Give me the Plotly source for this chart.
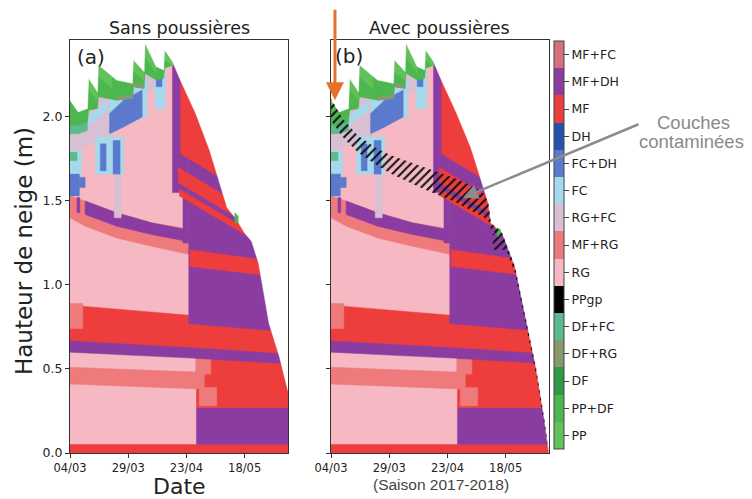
import pandas as pd
import plotly.graph_objects as go

START = pd.Timestamp("2018-03-04")
END_DAY = 93.6

GRAIN_TYPES = ["PP", "PP+DF", "DF", "DF+RG", "DF+FC", "PPgp", "RG", "MF+RG",
               "RG+FC", "FC", "FC+DH", "DH", "MF", "MF+DH", "MF+FC"]
GRAIN_COLORS = ["#62c25a", "#4cb64f", "#2f9a45", "#879a6c", "#5cba8e", "#000000",
                "#f6b8c2", "#ef7a7c", "#d9bfd2", "#a7d9ec", "#5b79cd", "#2652ae",
                "#ee3d3d", "#8b3ca1", "#d6707c"]

TICK_DAYS = [0, 25, 50, 75]
TICK_LABELS = ["04/03", "29/03", "23/04", "18/05"]
Y_TICKS = [0.0, 0.5, 1.0, 1.5, 2.0]

# snow surface (days since 04/03, height m)
SURF_A_DAYS = [0, 3.5, 7.5, 8, 11.8, 12.2, 20, 26.8, 27.2, 31.8, 32.2, 37, 40.2, 40.6, 44,
               47.4, 54, 60, 64.5, 67.5, 71, 75, 78, 81, 85.5, 90, 93.6]
SURF_A_H = [2.10, 2.03, 2.05, 2.23, 2.15, 2.31, 2.22, 2.20, 2.34, 2.27, 2.44, 2.30, 2.28, 2.40, 2.33,
            2.22, 2.02, 1.80, 1.60, 1.46, 1.40, 1.31, 1.26, 1.13, 0.77, 0.57, 0.37]
SURF_B_DAYS = [0, 3.5, 7.5, 8, 11.8, 12.2, 20, 26.8, 27.2, 31.8, 32.2, 37, 40.2, 40.6, 44,
               47.4, 54, 60, 64.5, 67.5, 68.6, 73.5, 79, 83.5, 88, 91.5, 93.6]
SURF_B_H = [2.10, 2.03, 2.05, 2.23, 2.15, 2.31, 2.22, 2.20, 2.34, 2.27, 2.44, 2.30, 2.28, 2.40, 2.33,
            2.22, 2.02, 1.82, 1.63, 1.49, 1.37, 1.31, 1.11, 0.81, 0.51, 0.21, 0.0]

# layers: (grain type, days, bottom heights, top heights)
L_RG_BASE = ("RG", [0, 95], [0, 0], [2.6, 2.6])
L_MF_CRUST = ("MF", [0, 95], [0, 0], [0.05, 0.05])
L_MFDH_LOW = ("MF+DH", [54.3, 95], [0.05, 0.05], [0.27, 0.27])
L_MF_LOW = ("MF", [54.3, 95], [0.27, 0.27], [0.60, 0.56])
L_MFRG_BAND1 = ("MF+RG", [0, 57.7], [0.41, 0.38], [0.51, 0.48])
L_MFRG_P1 = ("MF+RG", [54, 60.5], [0.47, 0.47], [0.56, 0.56])
L_MFRG_P2 = ("MF+RG", [55.5, 63], [0.28, 0.28], [0.39, 0.39])
L_MFDH_BAND1 = ("MF+DH", [0, 52, 95], [0.60, 0.565, 0.53], [0.675, 0.635, 0.595])
L_MF_BAND = ("MF", [0, 51, 95], [0.67, 0.63, 0.59], [0.88, 0.82, 0.73])
L_MFRG_P3 = ("MF+RG", [0, 5.5], [0.74, 0.74], [0.89, 0.89])
L_MFRG_BAND2 = ("MF+RG", [0, 6.5, 20, 35, 52], [1.40, 1.35, 1.28, 1.23, 1.18], [1.53, 1.50, 1.43, 1.37, 1.33])
L_MFDH_BAND2 = ("MF+DH", [6.5, 20, 35, 50], [1.42, 1.35, 1.30, 1.26], [1.50, 1.43, 1.37, 1.33])
L_MFDH_STRIP = ("MF+DH", [3, 4.2], [1.43, 1.43], [1.52, 1.52])
L_MFDH_R1 = ("MF+DH", [51, 95], [0.77, 0.72], [2.6, 2.6])
L_MFDH_R2 = ("MF+DH", [48.5, 51], [1.25, 1.25], [2.6, 2.6])
L_MFDH_R3 = ("MF+DH", [44, 48.5], [1.55, 1.55], [2.6, 2.6])
L_MF_MID = ("MF", [51.5, 82], [1.11, 1.06], [1.21, 1.15])
L_MF_S2 = ("MF", [47, 80], [1.53, 1.26], [1.57, 1.30])
L_MF_S1 = ("MF", [46.5, 80], [1.61, 1.33], [1.70, 1.42])
L_MF_WEDGE = ("MF", [47.5, 80], [1.78, 1.51], [2.6, 2.6])
L_RGFC_TOP = ("RG+FC", [0, 10, 17, 28, 33, 40], [1.80, 1.84, 1.88, 2.0, 2.14, 2.2], [2.6] * 6)
L_RGFC_V = ("RG+FC", [19, 22], [1.40, 1.40], [1.70, 1.70])
L_FC_1 = ("FC", [0, 5], [1.66, 1.66], [1.80, 1.80])
L_FC_2 = ("FC", [11, 23], [1.66, 1.66], [1.88, 1.88])
L_FC_3 = ("FC", [17, 33], [1.95, 2.0], [2.18, 2.22])
L_FC_4 = ("FC", [36.5, 41], [2.05, 2.05], [2.28, 2.28])
L_FC_5 = ("FC", [5, 12, 16], [1.92, 2.0, 2.04], [1.97, 2.05, 2.09])
L_FCDH_1 = ("FC+DH", [0, 4], [1.53, 1.53], [1.66, 1.66])
L_FCDH_2 = ("FC+DH", [4, 6.5], [1.58, 1.58], [1.64, 1.64])
L_FCDH_3 = ("FC+DH", [13, 15.5], [1.68, 1.68], [1.84, 1.84])
L_FCDH_4 = ("FC+DH", [18.5, 21.5], [1.66, 1.66], [1.86, 1.86])
L_FCDH_5 = ("FC+DH", [17, 23, 31], [1.90, 1.94, 2.0], [2.02, 2.10, 2.16])
L_FCDH_6 = ("FC+DH", [37, 39.5], [2.18, 2.18], [2.26, 2.26])
L_DFFC_1 = ("DF+FC", [0, 3], [1.74, 1.74], [1.79, 1.79])
L_DFFC_2 = ("DF+FC", [0, 3.5, 7.5], [1.90, 1.90, 1.92], [1.95, 1.95, 1.97])
L_PPDF_TOP = ("PP+DF", [0, 3.5, 7.5, 8, 11.8, 12.2, 20, 26.8, 27.2, 31.8, 32.2, 37, 40.2, 40.6, 44.5],
              [1.95, 1.95, 1.97, 2.04, 2.05, 2.12, 2.10, 2.11, 2.18, 2.17, 2.26, 2.22, 2.23, 2.29, 2.31],
              [2.6] * 15)
L_DFRG_STREAK = ("DF+RG", [20, 26.8, 27.2, 31.8], [2.10, 2.11, 2.18, 2.17], [2.12, 2.13, 2.20, 2.19])
L_PP_TIP1 = ("PP", [8, 11.8], [2.16, 2.10], [2.6, 2.6])
L_PP_TIP2 = ("PP", [12.2, 18], [2.24, 2.17], [2.6, 2.6])
L_PP_TIP3 = ("PP", [27.2, 31.8], [2.27, 2.22], [2.6, 2.6])
L_PP_TIP4 = ("PP", [32.2, 37], [2.36, 2.26], [2.6, 2.6])
L_PP_TIP5 = ("PP", [40.6, 44], [2.34, 2.30], [2.6, 2.6])

LAYERS = [L_RG_BASE, L_MF_CRUST, L_MFDH_LOW, L_MF_LOW, L_MFRG_BAND1, L_MFRG_P1, L_MFRG_P2,
          L_MFDH_BAND1, L_MF_BAND, L_MFRG_P3, L_MFRG_BAND2, L_MFDH_BAND2, L_MFDH_STRIP,
          L_MFDH_R1, L_MFDH_R2, L_MFDH_R3, L_MF_MID, L_MF_S2, L_MF_S1, L_MF_WEDGE,
          L_RGFC_TOP, L_RGFC_V, L_FC_1, L_FC_2, L_FC_3, L_FC_4, L_FC_5,
          L_FCDH_1, L_FCDH_2, L_FCDH_3, L_FCDH_4, L_FCDH_5, L_FCDH_6, L_DFFC_1, L_DFFC_2,
          L_PPDF_TOP, L_DFRG_STREAK, L_PP_TIP1, L_PP_TIP2, L_PP_TIP3, L_PP_TIP4, L_PP_TIP5]

NUB_A = ("PP+DF", [70.8, 72.2], [1.37, 1.37], [1.43, 1.41])
NUB_B = ("PP+DF", [71.3, 72.8], [1.29, 1.29], [1.34, 1.33])

# contaminated (dust) layers, panel b
HATCH_BAND_DAYS = [0, 5, 11.5, 20, 26, 40, 54, 62, 65.8, 67.5, 68.6]
HATCH_BAND_BOT = [1.98, 1.88, 1.79, 1.71, 1.66, 1.57, 1.49, 1.43, 1.40, 1.38, 1.36]
HATCH_BAND_TOP = [2.11, 1.99, 1.89, 1.81, 1.77, 1.70, 1.63, 1.58, 1.54, 1.49, 1.37]
HATCH_STRIP_DAYS = [67.5, 68.6, 73.5, 79, 83.5, 88, 91.5, 93.6]
HATCH_STRIP_BOT = [1.45, 1.33, 1.27, 1.07, 0.77, 0.47, 0.17, 0.0]
HATCH_STRIP_TOP = [1.49, 1.37, 1.31, 1.11, 0.81, 0.51, 0.21, 0.0]
HATCH_BLOCK_DAYS = [69.5, 75]
HATCH_BLOCK_BOT = [1.21, 1.21]
HATCH_BLOCK_TOP = [1.31, 1.26]

DUST_DAY, DUST_H = 1.7, 2.10
ARROW_TIP_DAY, ARROW_TIP_H = 56.7, 1.52

COLOR = dict(zip(GRAIN_TYPES, GRAIN_COLORS))


def to_dates(days):
    return [START + pd.Timedelta(days=float(d)) for d in days]


def band_xy(days, bottom, top):
    xs = list(days) + list(days)[::-1] + [days[0]]
    ys = list(bottom) + list(top)[::-1] + [bottom[0]]
    return to_dates(xs), ys


fig = go.Figure()


def add_band(layer, xa, ya):
    gt, d, b, t = layer
    x, y = band_xy(d, b, t)
    fig.add_trace(go.Scatter(x=x, y=y, xaxis=xa, yaxis=ya, mode="lines", fill="toself",
                             fillcolor=COLOR[gt], line=dict(color=COLOR[gt], width=0.5),
                             hoverinfo="skip", showlegend=False))


def add_hatch(days, bot, top):
    x, y = band_xy(days, bot, top)
    fig.add_trace(go.Scatter(x=x, y=y, xaxis="x2", yaxis="y2", mode="lines", fill="toself",
                             fillcolor="rgba(0,0,0,0)", line=dict(width=0),
                             fillpattern=dict(shape="/", fgcolor="#111", bgcolor="rgba(0,0,0,0)",
                                              size=6, solidity=0.35, fillmode="replace"),
                             hoverinfo="skip", showlegend=False))


for xa, ya, sd, sh, nub in [("x", "y", SURF_A_DAYS, SURF_A_H, NUB_A),
                            ("x2", "y2", SURF_B_DAYS, SURF_B_H, NUB_B)]:
    for layer in LAYERS:
        add_band(layer, xa, ya)
    mx = [-3] + list(sd) + [END_DAY + 3, END_DAY + 3, -3, -3]
    my = [sh[0]] + list(sh) + [sh[-1], 3.0, 3.0, sh[0]]
    fig.add_trace(go.Scatter(x=to_dates(mx), y=my, xaxis=xa, yaxis=ya, mode="lines", fill="toself",
                             fillcolor="white", line=dict(color="white", width=0.5),
                             hoverinfo="skip", showlegend=False))
    add_band(nub, xa, ya)

add_hatch(HATCH_BAND_DAYS, HATCH_BAND_BOT, HATCH_BAND_TOP)
add_hatch(HATCH_STRIP_DAYS, HATCH_STRIP_BOT, HATCH_STRIP_TOP)
add_hatch(HATCH_BLOCK_DAYS, HATCH_BLOCK_BOT, HATCH_BLOCK_TOP)

n = len(GRAIN_TYPES)
scale = []
for i, c in enumerate(GRAIN_COLORS):
    scale.append([i / n, c])
    scale.append([(i + 1) / n, c])
fig.add_trace(go.Scatter(
    x=[START], y=[-1], xaxis="x2", yaxis="y2", mode="markers",
    marker=dict(size=1, color=[0], cmin=-0.5, cmax=n - 0.5, colorscale=scale, showscale=True,
                colorbar=dict(x=1.0104, xanchor="left", y=0.5036, yanchor="middle", len=0.988,
                              lenmode="fraction", thickness=10, thicknessmode="pixels",
                              outlinewidth=1, outlinecolor="#444", tickvals=list(range(n)),
                              ticktext=GRAIN_TYPES, ticks="outside", ticklen=5, tickcolor="#444",
                              tickfont=dict(size=12.5, color="#222", family="DejaVu Sans"),
                              xpad=0, ypad=0)),
    hoverinfo="skip", showlegend=False))

tick_dates = to_dates(TICK_DAYS)
xrange_ = [START, START + pd.Timedelta(days=END_DAY)]
axis_common = dict(showline=True, mirror=True, linecolor="#333", linewidth=1, showgrid=False,
                   zeroline=False, ticks="outside", ticklen=4, tickcolor="#333")
# page body keeps an 8 px margin, so the figure is 744x491 placed at (8, 8)
fig.update_layout(
    width=744, height=491, margin=dict(l=62, r=203, t=32, b=46),
    plot_bgcolor="white", paper_bgcolor="white",
    font=dict(family="DejaVu Sans", color="#222"),
    xaxis=dict(domain=[0, 0.4551], type="date", range=xrange_, tickvals=tick_dates,
               ticktext=TICK_LABELS, tickfont=dict(size=11.5), anchor="y", **axis_common),
    xaxis2=dict(domain=[0.5449, 1], type="date", range=xrange_, tickvals=tick_dates,
                ticktext=TICK_LABELS, tickfont=dict(size=11.5), anchor="y2", **axis_common),
    yaxis=dict(range=[0, 2.458], tickvals=Y_TICKS, ticktext=[f"{v:.1f}" for v in Y_TICKS],
               tickfont=dict(size=12.5), anchor="x", **axis_common),
    yaxis2=dict(range=[0, 2.458], tickvals=Y_TICKS, showticklabels=False, anchor="x2", **axis_common),
)

ann = [
    dict(text="Sans poussières", x=0.2276, y=1.030, font=dict(size=17.5)),
    dict(text="Avec poussières", x=0.7724, y=1.030, font=dict(size=17.5)),
    dict(text="(a)", x=0.0438, y=0.9588, font=dict(size=20)),
    dict(text="(b)", x=0.5825, y=0.962, font=dict(size=20)),
    dict(text="Date", x=0.2296, y=-0.0823, font=dict(size=22)),
    dict(text="(Saison 2017-2018)", x=0.7745, y=-0.0751,
         font=dict(size=15.5, family="Liberation Sans", color="#444")),
    dict(text="Hauteur de neige (m)", x=-0.096, y=0.489, textangle=-90, font=dict(size=23)),
    dict(text="Couches", x=1.3027, y=0.8002,
         font=dict(size=18.5, family="Liberation Sans", color="#8a8a8a")),
    dict(text="contaminées", x=1.2965, y=0.7554,
         font=dict(size=18.5, family="Liberation Sans", color="#8a8a8a")),
]
for a in ann:
    a.update(xref="paper", yref="paper", xanchor="center", yanchor="middle", showarrow=False)
fig.update_layout(annotations=ann)

fig.add_annotation(x=to_dates([DUST_DAY])[0], y=DUST_H, xref="x2", yref="y2", text="",
                   showarrow=True, ax=0, ay=-92, arrowcolor="#e5712b", arrowwidth=3,
                   arrowhead=2, arrowsize=1.2)
fig.add_annotation(x=to_dates([ARROW_TIP_DAY])[0], y=ARROW_TIP_H, xref="x2", yref="y2", text="",
                   showarrow=True, ax=177, ay=-74, arrowcolor="#8c8c8c", arrowwidth=2.5,
                   arrowhead=2, arrowsize=1.2)

fig.write_html("out.html")
